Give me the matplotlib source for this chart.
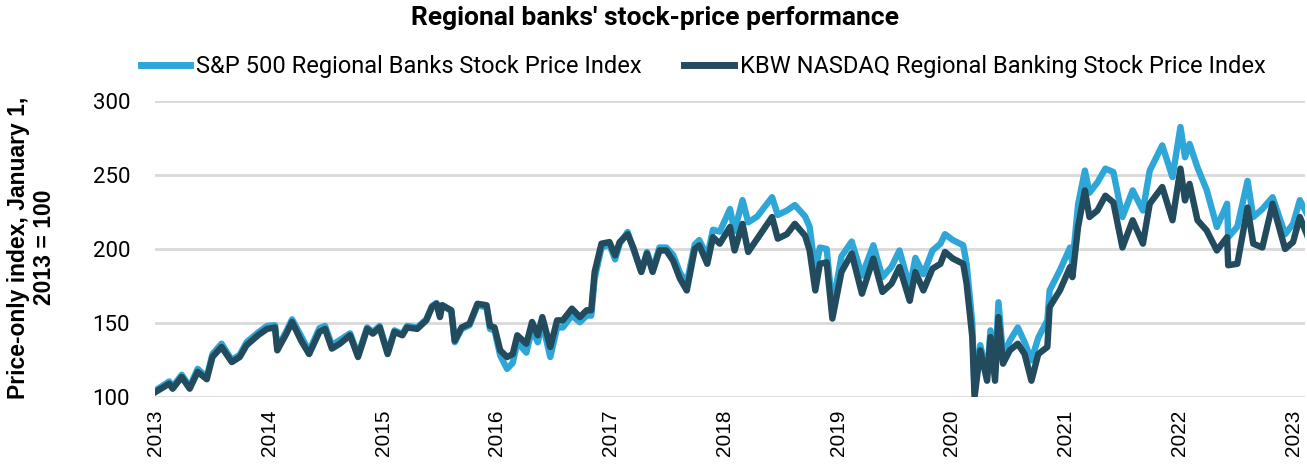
import matplotlib
matplotlib.use("Agg")
import matplotlib.pyplot as plt
import numpy as np

# Dates as decimal years (Jan 1, 2013 = 100)
dates = np.array([
    2013.00, 2013.12, 2013.15, 2013.23, 2013.30, 2013.37, 2013.45, 2013.50, 2013.58, 2013.67,
    2013.74, 2013.80, 2013.90, 2013.98, 2014.05, 2014.07, 2014.15, 2014.20, 2014.28, 2014.35,
    2014.44, 2014.49, 2014.55, 2014.62, 2014.71, 2014.78, 2014.86, 2014.91, 2014.97, 2015.04,
    2015.10, 2015.17, 2015.21, 2015.30, 2015.38, 2015.43, 2015.47, 2015.50, 2015.52, 2015.60,
    2015.63, 2015.69, 2015.76, 2015.83, 2015.91, 2015.94, 2015.98, 2016.03, 2016.09, 2016.14,
    2016.18, 2016.26, 2016.31, 2016.36, 2016.40, 2016.47, 2016.53, 2016.58, 2016.66, 2016.73,
    2016.79, 2016.83, 2016.86, 2016.92, 2016.99, 2017.04, 2017.08, 2017.15, 2017.20, 2017.27,
    2017.32, 2017.37, 2017.43, 2017.49, 2017.55, 2017.61, 2017.67, 2017.74, 2017.78, 2017.85,
    2017.90, 2017.96, 2018.05, 2018.09, 2018.16, 2018.21, 2018.29, 2018.42, 2018.47, 2018.55,
    2018.62, 2018.71, 2018.75, 2018.80, 2018.84, 2018.90, 2018.95, 2019.03, 2019.12, 2019.21,
    2019.31, 2019.39, 2019.47, 2019.54, 2019.63, 2019.68, 2019.75, 2019.83, 2019.90, 2019.94,
    2020.01, 2020.10, 2020.13, 2020.18, 2020.20, 2020.25, 2020.31, 2020.34, 2020.38, 2020.41,
    2020.45, 2020.51, 2020.58, 2020.64, 2020.70, 2020.76, 2020.84, 2020.86, 2020.95, 2021.04,
    2021.06, 2021.11, 2021.17, 2021.21, 2021.28, 2021.35, 2021.42, 2021.50, 2021.59, 2021.68,
    2021.74, 2021.85, 2021.94, 2022.01, 2022.05, 2022.09, 2022.16, 2022.24, 2022.33, 2022.42,
    2022.43, 2022.51, 2022.60, 2022.65, 2022.73, 2022.82, 2022.93, 2023.00, 2023.06, 2023.12,
])

sp500 = np.array([
    104.5, 110.5, 107.0, 115.0, 107.0, 119.0, 113.5, 129.0, 136.0, 125.0,
    128.5, 137.0, 143.5, 148.0, 148.5, 133.0, 144.5, 152.5, 141.0, 131.0,
    146.5, 148.0, 135.0, 138.5, 143.0, 128.5, 147.0, 144.0, 148.0, 130.0,
    145.0, 142.5, 148.0, 147.0, 152.5, 161.5, 163.5, 155.0, 162.0, 158.0,
    137.0, 146.0, 148.5, 162.0, 160.5, 146.0, 145.0, 128.0, 119.0, 123.0,
    137.0, 130.0, 146.0, 137.0, 150.0, 127.0, 147.0, 147.0, 155.0, 150.5,
    155.0, 155.0, 180.0, 201.0, 203.0, 193.0, 203.5, 211.5, 200.0, 184.5,
    198.0, 186.0, 201.0, 201.0, 196.0, 184.0, 177.0, 203.0, 206.0, 195.0,
    213.0, 211.7, 227.0, 212.0, 233.0, 218.0, 222.0, 235.0, 223.0, 226.0,
    229.7, 222.0, 215.0, 185.0, 201.0, 200.0, 160.8, 195.0, 205.0, 182.0,
    202.5, 181.0, 188.0, 199.0, 174.0, 194.0, 183.0, 199.0, 203.6, 210.0,
    206.0, 202.5, 190.0, 150.0, 103.0, 135.0, 115.0, 145.0, 116.0, 164.0,
    128.0, 138.0, 147.0, 137.0, 124.8, 140.0, 151.8, 172.0, 185.6, 201.0,
    190.0, 230.0, 253.0, 238.0, 245.0, 254.3, 252.0, 221.6, 239.6, 226.0,
    253.0, 270.0, 248.6, 282.4, 262.0, 271.0, 255.0, 240.0, 214.9, 230.6,
    208.0, 215.0, 246.0, 221.6, 227.0, 235.0, 210.0, 216.9, 233.0, 224.0,
])

kbw = np.array([
    103.4, 109.0, 105.6, 113.5, 105.6, 117.0, 112.0, 127.0, 133.8, 123.6,
    127.0, 135.0, 141.7, 146.0, 147.0, 131.5, 142.8, 150.7, 138.0, 129.0,
    144.0, 146.0, 132.7, 136.0, 141.7, 127.0, 146.0, 142.8, 147.0, 129.0,
    144.0, 141.7, 147.0, 146.0, 151.8, 160.8, 163.0, 154.0, 162.0, 158.6,
    138.0, 147.0, 149.5, 163.0, 162.0, 148.0, 147.0, 131.5, 127.0, 129.0,
    141.7, 136.0, 150.7, 141.7, 154.0, 133.8, 151.8, 151.8, 159.7, 154.0,
    158.6, 158.6, 184.5, 203.6, 204.7, 195.7, 204.7, 210.0, 201.0, 184.5,
    197.0, 184.5, 199.0, 199.0, 192.0, 180.0, 172.0, 200.0, 202.5, 190.0,
    208.0, 203.6, 214.9, 199.0, 217.0, 198.0, 207.0, 221.6, 207.0, 210.0,
    217.0, 209.0, 199.0, 172.0, 190.0, 191.0, 153.0, 184.5, 197.0, 169.8,
    193.5, 171.0, 176.6, 187.8, 165.0, 184.5, 172.0, 186.7, 190.0, 198.0,
    193.5, 190.0, 176.6, 140.5, 100.0, 131.5, 111.0, 140.5, 111.0, 154.0,
    122.5, 131.5, 136.0, 129.0, 111.0, 129.0, 133.8, 160.8, 172.0, 187.8,
    181.0, 214.9, 239.6, 221.6, 226.0, 236.0, 231.5, 201.0, 219.4, 203.6,
    230.6, 241.9, 219.4, 254.3, 232.8, 244.0, 219.4, 212.6, 199.0, 208.0,
    189.0, 190.0, 228.0, 203.6, 201.0, 230.6, 200.0, 204.7, 221.6, 210.0,
])

series_labels = ["S&P 500 Regional Banks Stock Price Index",
                 "KBW NASDAQ Regional Banking Stock Price Index"]
years = list(range(2013, 2024))
yticks = [100, 150, 200, 250, 300]

light = "#2ea6d8"
dark = "#234b5e"
grid_col = "#d9d9d9"
legend_font = "Roboto"

fig = plt.figure(figsize=(13.07, 4.67), dpi=100)
ax = fig.add_axes([155 / 1307, 70 / 467, 1150 / 1307, 296 / 467])

ax.plot(dates, sp500, color=light, lw=4.6, solid_joinstyle="round", label=series_labels[0], zorder=3)
ax.plot(dates, kbw, color=dark, lw=4.6, solid_joinstyle="round", label=series_labels[1], zorder=4)

ax.set_ylim(100, 300)
ax.set_xlim(2012.995, 2023.105)
ax.set_yticks(yticks)
ax.set_yticklabels([str(v) for v in yticks], fontsize=16, family=legend_font)
ax.set_xticks(years)
ax.set_xticklabels([str(y) for y in years], rotation=90, fontsize=15, family="Liberation Sans")
ax.tick_params(axis="both", length=0)
ax.tick_params(axis="y", pad=18)
ax.tick_params(axis="x", pad=9)

ax.grid(axis="y", color=grid_col, lw=2)
ax.set_axisbelow(True)
for s in ax.spines.values():
    s.set_visible(False)

fig.text(0.501, 0.961, "Regional banks' stock-price performance", ha="center", va="center",
         fontsize=19, fontweight="bold", family=legend_font)
fig.text(0.024, 0.47, "Price-only index, January 1,\n2013 = 100", rotation=90,
         ha="center", va="center", fontsize=16.5, fontweight="bold", family="Liberation Sans",
         linespacing=1.15)

fig.legend(loc="center", bbox_to_anchor=(0.538, 1 - 67 / 467), ncol=2, frameon=False,
           prop={"family": legend_font, "size": 17}, handlelength=2.1, handletextpad=0.25,
           columnspacing=1.8)
for line in fig.legends[0].get_lines():
    line.set_linewidth(5)

fig.savefig("out.png", dpi=100)
